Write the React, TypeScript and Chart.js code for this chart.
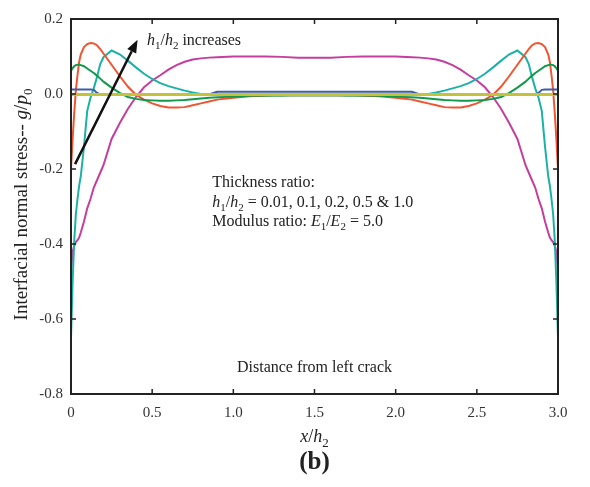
import React, { useEffect, useRef } from "react";
import { Chart, registerables } from "chart.js";

Chart.register(...registerables);

const xValues = [
  0, 0.01, 0.02, 0.03, 0.04, 0.05, 0.06, 0.08, 0.1, 0.12, 0.14, 0.16, 0.18, 0.2, 0.25, 0.3, 0.35,
  0.4, 0.45, 0.5, 0.55, 0.6, 0.65, 0.7, 0.75, 0.8, 0.85, 0.9, 1.0, 1.1, 1.2, 1.3, 1.4, 1.5,
  1.6, 1.7, 1.8, 1.9, 2.0, 2.1, 2.15, 2.2, 2.25, 2.3, 2.35, 2.4, 2.45, 2.5, 2.55, 2.6, 2.65,
  2.7, 2.75, 2.8, 2.82, 2.84, 2.86, 2.88, 2.9, 2.92, 2.94, 2.95, 2.96, 2.97, 2.98, 2.99, 3.0,
];

// h1/h2 = 0.01
const seriesYellow = [
  -0.001, -0.001, -0.001, -0.001, -0.001, -0.001, -0.001, -0.001, -0.001, -0.001, -0.001, -0.001, -0.001, -0.001, -0.001, -0.001, -0.001,
  -0.001, -0.001, -0.001, -0.001, -0.001, -0.001, -0.001, -0.001, -0.001, -0.001, -0.001, -0.001, -0.001, -0.001, -0.001, -0.001, -0.001,
  -0.001, -0.001, -0.001, -0.001, -0.001, -0.001, -0.001, -0.001, -0.001, -0.001, -0.001, -0.001, -0.001, -0.001, -0.001, -0.001, -0.001,
  -0.001, -0.001, -0.001, -0.001, -0.001, -0.001, -0.001, -0.001, -0.001, -0.001, -0.001, -0.001, -0.001, -0.001, -0.001, -0.001,
];

const seriesBlue = [
  0.012, 0.012, 0.012, 0.012, 0.012, 0.012, 0.012, 0.012, 0.012, 0.012, 0.011, 0.003, -0.001, -0.002, -0.002, -0.002, -0.002,
  -0.002, -0.002, -0.002, -0.002, -0.002, -0.002, -0.002, -0.002, -0.002, -0.001, 0.006, 0.006, 0.006, 0.006, 0.006, 0.006, 0.006,
  0.006, 0.006, 0.006, 0.006, 0.006, 0.006, -0.001, -0.002, -0.002, -0.002, -0.002, -0.002, -0.002, -0.002, -0.002, -0.002, -0.002,
  -0.002, -0.002, -0.002, -0.002, -0.002, -0.001, 0.003, 0.011, 0.012, 0.012, 0.012, 0.012, 0.012, 0.012, 0.012, 0.012,
];

const seriesGreen = [
  0.062, 0.069, 0.074, 0.077, 0.078, 0.078, 0.077, 0.074, 0.068, 0.062, 0.056, 0.049, 0.041, 0.033, 0.017, 0.003, -0.008,
  -0.013, -0.016, -0.017, -0.018, -0.018, -0.017, -0.016, -0.014, -0.012, -0.01, -0.009, -0.007, -0.005, -0.004, -0.004, -0.003, -0.003,
  -0.003, -0.004, -0.004, -0.005, -0.007, -0.009, -0.01, -0.012, -0.014, -0.016, -0.017, -0.018, -0.018, -0.017, -0.016, -0.013, -0.008,
  0.003, 0.017, 0.033, 0.041, 0.049, 0.056, 0.062, 0.068, 0.074, 0.077, 0.078, 0.078, 0.077, 0.074, 0.069, 0.062,
];

const seriesOrange = [
  -0.2, -0.12, -0.05, 0.01, 0.05, 0.085, 0.105, 0.125, 0.133, 0.136, 0.135, 0.13, 0.12, 0.108, 0.078, 0.048, 0.02,
  -0.002, -0.015, -0.025, -0.032, -0.036, -0.036, -0.035, -0.03, -0.025, -0.02, -0.015, -0.01, -0.006, -0.004, -0.003, -0.003, -0.003,
  -0.003, -0.003, -0.004, -0.006, -0.01, -0.015, -0.02, -0.025, -0.03, -0.035, -0.036, -0.036, -0.032, -0.025, -0.015, -0.002, 0.02,
  0.048, 0.078, 0.108, 0.12, 0.13, 0.135, 0.136, 0.133, 0.125, 0.105, 0.085, 0.05, 0.01, -0.05, -0.12, -0.2,
];

const seriesTeal = [
  -0.65, -0.5, -0.39, -0.32, -0.28, -0.245, -0.22, -0.14, -0.045, -0.01, 0.015, 0.045, 0.08, 0.098, 0.116, 0.106, 0.089,
  0.071, 0.054, 0.04, 0.029, 0.021, 0.015, 0.009, 0.004, 0.0, -0.002, -0.004, -0.005, -0.005, -0.004, -0.003, -0.003, -0.003,
  -0.003, -0.003, -0.004, -0.005, -0.005, -0.004, -0.002, 0.0, 0.004, 0.009, 0.015, 0.021, 0.029, 0.04, 0.054, 0.071, 0.089,
  0.106, 0.116, 0.098, 0.08, 0.045, 0.015, -0.01, -0.045, -0.14, -0.22, -0.245, -0.28, -0.32, -0.39, -0.5, -0.65,
];

const seriesMagenta = [
  -0.475, -0.42, -0.405, -0.395, -0.39, -0.383, -0.37, -0.34, -0.305, -0.28, -0.25, -0.23, -0.21, -0.19, -0.12, -0.078, -0.04,
  -0.008, 0.018, 0.036, 0.05, 0.065, 0.077, 0.086, 0.092, 0.095, 0.097, 0.098, 0.1, 0.1, 0.1, 0.099, 0.097, 0.097,
  0.097, 0.099, 0.1, 0.1, 0.1, 0.098, 0.097, 0.095, 0.092, 0.086, 0.077, 0.065, 0.05, 0.036, 0.018, -0.008, -0.04,
  -0.078, -0.12, -0.19, -0.21, -0.23, -0.25, -0.28, -0.305, -0.34, -0.37, -0.383, -0.39, -0.395, -0.405, -0.42, -0.475,
];

const xTicks = [0, 0.5, 1.0, 1.5, 2.0, 2.5, 3.0];
const yTicks = [0.2, 0.0, -0.2, -0.4, -0.6, -0.8];

const FONT = '"Liberation Serif", "Times New Roman", serif';

type Seg = { t: string; i?: boolean; sub?: boolean; b?: boolean };

function drawRich(ctx: CanvasRenderingContext2D, segs: Seg[], x: number, y: number, size: number, align: "left" | "center") {
  const fontOf = (s: Seg) => `${s.i ? "italic " : ""}${s.b ? "bold " : ""}${s.sub ? Math.round(size * 0.7) : size}px ${FONT}`;
  let total = 0;
  for (const s of segs) {
    ctx.font = fontOf(s);
    total += ctx.measureText(s.t).width;
  }
  let cx = align === "center" ? x - total / 2 : x;
  ctx.textAlign = "left";
  ctx.textBaseline = "alphabetic";
  for (const s of segs) {
    ctx.font = fontOf(s);
    ctx.fillText(s.t, cx, s.sub ? y + size * 0.25 : y);
    cx += ctx.measureText(s.t).width;
  }
}

const decorPlugin = {
  id: "decor",
  afterDatasetsDraw(chart: any) {
    const ctx: CanvasRenderingContext2D = chart.ctx;
    const xs = chart.scales.x;
    const ys = chart.scales.y;
    const { left, right, top, bottom } = chart.chartArea;
    ctx.save();
    // frame
    ctx.strokeStyle = "#222";
    ctx.lineWidth = 2;
    ctx.strokeRect(left, top, right - left, bottom - top);
    // inward ticks
    ctx.lineWidth = 1.5;
    ctx.beginPath();
    for (const v of xTicks) {
      const px = xs.getPixelForValue(v);
      ctx.moveTo(px, bottom);
      ctx.lineTo(px, bottom - 5);
      ctx.moveTo(px, top);
      ctx.lineTo(px, top + 5);
    }
    for (const v of yTicks) {
      const py = ys.getPixelForValue(v);
      ctx.moveTo(left, py);
      ctx.lineTo(left + 5, py);
      ctx.moveTo(right, py);
      ctx.lineTo(right - 5, py);
    }
    ctx.stroke();

    // arrow
    const x0 = xs.getPixelForValue(0.025);
    const y0 = ys.getPixelForValue(-0.187);
    const x1 = xs.getPixelForValue(0.41);
    const y1 = ys.getPixelForValue(0.145);
    const ang = Math.atan2(y1 - y0, x1 - x0);
    const headLen = 13;
    const headW = 5;
    const bx = x1 - headLen * Math.cos(ang);
    const by = y1 - headLen * Math.sin(ang);
    ctx.strokeStyle = "#111";
    ctx.fillStyle = "#111";
    ctx.lineWidth = 2.5;
    ctx.beginPath();
    ctx.moveTo(x0, y0);
    ctx.lineTo(bx, by);
    ctx.stroke();
    ctx.beginPath();
    ctx.moveTo(x1, y1);
    ctx.lineTo(bx + headW * Math.sin(ang), by - headW * Math.cos(ang));
    ctx.lineTo(bx - headW * Math.sin(ang), by + headW * Math.cos(ang));
    ctx.closePath();
    ctx.fill();

    // texts
    ctx.fillStyle = "#222";
    drawRich(
      ctx,
      [{ t: "h", i: true }, { t: "1", sub: true }, { t: "/" }, { t: "h", i: true }, { t: "2", sub: true }, { t: " increases" }],
      xs.getPixelForValue(0.468),
      ys.getPixelForValue(0.131),
      16,
      "left"
    );
    const tx = xs.getPixelForValue(0.87);
    drawRich(ctx, [{ t: "Thickness ratio:" }], tx, ys.getPixelForValue(-0.248), 16, "left");
    drawRich(
      ctx,
      [{ t: "h", i: true }, { t: "1", sub: true }, { t: "/" }, { t: "h", i: true }, { t: "2", sub: true }, { t: " = 0.01, 0.1, 0.2, 0.5 & 1.0" }],
      tx,
      ys.getPixelForValue(-0.3),
      16,
      "left"
    );
    drawRich(
      ctx,
      [{ t: "Modulus ratio: " }, { t: "E", i: true }, { t: "1", sub: true }, { t: "/" }, { t: "E", i: true }, { t: "2", sub: true }, { t: " = 5.0" }],
      tx,
      ys.getPixelForValue(-0.352),
      16,
      "left"
    );
    drawRich(ctx, [{ t: "Distance from left crack" }], xs.getPixelForValue(1.5), ys.getPixelForValue(-0.741), 16, "center");

    // axis titles
    const midX = (left + right) / 2;
    drawRich(ctx, [{ t: "x", i: true }, { t: "/" }, { t: "h", i: true }, { t: "2", sub: true }], midX, bottom + 48, 18, "center");
    drawRich(ctx, [{ t: "(b)", b: true }], midX, bottom + 75, 25, "center");
    ctx.save();
    ctx.translate(27, (top + bottom) / 2 - 2);
    ctx.rotate(-Math.PI / 2);
    drawRich(
      ctx,
      [{ t: "Interfacial normal stress-- " }, { t: "g", i: true }, { t: "/" }, { t: "p", i: true }, { t: "0", sub: true }],
      0,
      0,
      19,
      "center"
    );
    ctx.restore();
    ctx.restore();
  },
};

function toPoints(ys: number[]) {
  return xValues.map((x, i) => ({ x, y: ys[i] }));
}

export default function App() {
  const ref = useRef<HTMLCanvasElement | null>(null);
  useEffect(() => {
    if (!ref.current) return;
    const mk = (data: number[], color: string, width = 2) => ({
      data: toPoints(data),
      borderColor: color,
      backgroundColor: color,
      borderWidth: width,
      pointRadius: 0,
      tension: 0,
      fill: false,
    });
    const chart = new Chart(ref.current, {
      type: "line",
      data: {
        datasets: [
          mk(seriesYellow, "#C4C23A", 3),
          mk(seriesBlue, "#3D5DA8"),
          mk(seriesGreen, "#10994A"),
          mk(seriesOrange, "#EE5530"),
          mk(seriesTeal, "#1AB2A6"),
          mk(seriesMagenta, "#C33E9E"),
        ] as any,
      },
      options: {
        animation: false,
        responsive: false,
        events: [],
        layout: { padding: { left: 0, right: 32, top: 19, bottom: 0 } },
        plugins: { legend: { display: false }, tooltip: { enabled: false } },
        scales: {
          x: {
            type: "linear",
            min: 0,
            max: 3,
            grid: { display: false, drawTicks: false },
            border: { display: false },
            afterBuildTicks: (s: any) => {
              s.ticks = xTicks.map((v) => ({ value: v }));
            },
            afterFit: (s: any) => {
              s.height = 93;
            },
            ticks: {
              padding: 10,
              color: "#333",
              font: { family: FONT, size: 15 },
              maxRotation: 0,
              callback: (v: any) => (Number(v) === 0 ? "0" : Number(v).toFixed(1)),
            },
          },
          y: {
            type: "linear",
            min: -0.8,
            max: 0.2,
            grid: { display: false, drawTicks: false },
            border: { display: false },
            afterBuildTicks: (s: any) => {
              s.ticks = yTicks.map((v) => ({ value: v }));
            },
            afterFit: (s: any) => {
              s.width = 71;
            },
            ticks: {
              padding: 8,
              color: "#333",
              font: { family: FONT, size: 15 },
              callback: (v: any) => Number(v).toFixed(1),
            },
          },
        },
      },
      plugins: [decorPlugin],
    });
    return () => chart.destroy();
  }, []);
  return (
    <div style={{ position: "fixed", left: 0, top: 0, width: 590, height: 487, background: "#fff" }}>
      <canvas ref={ref} width={590} height={487} style={{ width: 590, height: 487 }} />
    </div>
  );
}
